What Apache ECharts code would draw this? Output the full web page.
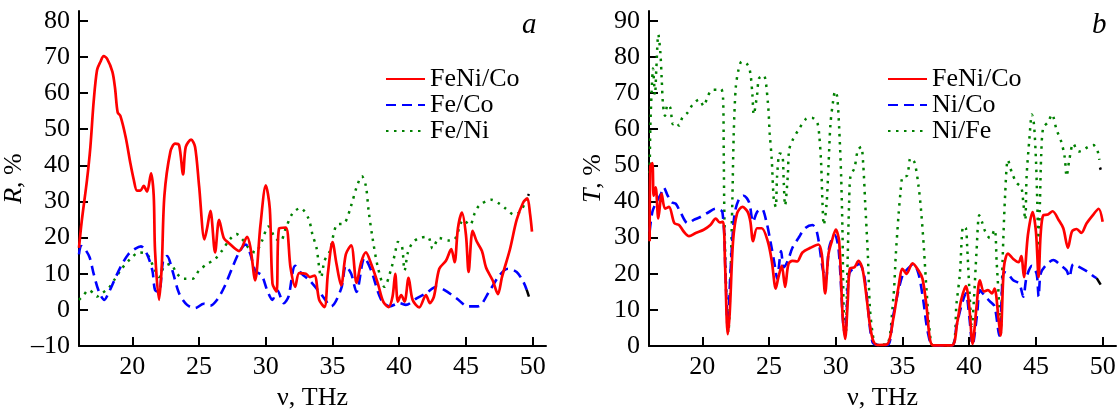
<!DOCTYPE html>
<html>
<head>
<meta charset="utf-8">
<script src="https://cdn.jsdelivr.net/npm/echarts@6/dist/echarts.min.js"></script>
<style>
  html, body { margin: 0; padding: 0; background: #fff; }
  #main { width: 1119px; height: 416px; }
</style>
</head>
<body>
<div id="main"></div>
<script>
// tick labels
var xTicks = [20, 25, 30, 35, 40, 45, 50];
var rTicks = [-10, 0, 10, 20, 30, 40, 50, 60, 70, 80];
var tTicks = [0, 10, 20, 30, 40, 50, 60, 70, 80, 90];

// panel a: reflection R, %  ([frequency THz, value])
var rFeNiCo = [[16.0,17.2],[16.2,24.4],[16.6,36],[16.85,45],[17.1,57.7],[17.35,66.3],[17.6,68.6],[17.85,70.2],[18.1,69.5],[18.5,65.9],[18.7,61.4],[18.9,54.6],[19.1,53.7],[19.5,47.8],[19.85,40.6],[20.1,36.1],[20.35,33],[20.6,33],[20.85,34.3],[21.1,32.7],[21.4,37.8],[21.6,31.6],[21.7,16.3],[22.0,2.8],[22.2,11.9],[22.4,31.6],[22.85,43.8],[23.2,46],[23.5,45.6],[23.8,37.5],[24.0,45.1],[24.4,47.1],[24.7,45.1],[25.0,34.3],[25.4,19.5],[25.6,22.6],[25.85,27.4],[26.2,15.9],[26.5,24.9],[26.85,19.9],[27.2,18.6],[28.0,16.3],[28.6,20.2],[28.85,17.2],[29.2,8.2],[29.6,23.5],[30.0,34.5],[30.3,28],[30.5,7.3],[30.8,5.1],[31.0,22.6],[31.5,22.8],[31.85,11.8],[32.2,6.4],[32.5,10.2],[33.0,10],[33.3,9.1],[33.65,9.5],[34.0,2.8],[34.4,0.8],[34.65,10],[35.0,18.8],[35.3,12.7],[35.65,6.8],[36.0,15.4],[36.4,17.9],[36.8,7.5],[37.15,13.2],[37.5,15.9],[37.9,12.7],[38.4,7.3],[38.8,2.3],[39.2,0.8],[39.5,3.7],[39.7,10],[39.9,2.3],[40.15,4.1],[40.4,2.3],[40.7,8.9],[41.0,2.8],[41.5,0.7],[42.0,4.1],[42.3,1.9],[42.6,3.7],[43.0,11.4],[43.5,13.6],[43.9,16.8],[44.15,13.2],[44.4,22.6],[44.7,26.9],[45.0,20.8],[45.2,10.5],[45.5,21.9],[45.8,19],[46.2,16.3],[46.5,11.8],[47.0,8.2],[47.4,4.4],[47.7,9.1],[48.3,16.8],[48.8,24.9],[49.3,29.8],[49.6,30.9],[49.8,26.7],[49.95,21.7]];
var rFeCo = [[16.0,15.4],[16.15,17.7],[16.45,16.8],[16.8,14.5],[17.1,10],[17.5,5],[17.9,2.8],[18.2,4.6],[18.6,7.8],[19.1,11.8],[19.7,15.4],[20.2,16.9],[20.65,17.6],[21.1,15.4],[21.5,10.9],[21.7,5.5],[22.0,5],[22.3,13.6],[22.6,14.9],[23.0,10.9],[23.5,4.6],[24.1,1.4],[24.7,0.5],[25.35,1.7],[25.85,1.2],[26.35,2.8],[26.9,6.4],[27.5,11.8],[28.05,16.3],[28.5,18.1],[28.85,15.4],[29.2,10.9],[29.7,9.5],[30.1,5.5],[30.5,2.8],[30.85,5.5],[31.35,1.9],[31.7,3.7],[32.2,12.2],[32.7,10],[33.3,8.1],[34.2,4.1],[34.9,1],[35.65,5.9],[36.0,12.2],[36.4,10],[36.8,5],[37.4,14.5],[37.9,10.9],[38.65,2.8],[39.3,1],[40.0,1.9],[40.5,1.4],[41.3,3.2],[42.0,4.6],[42.8,6.4],[43.4,5.5],[44.3,3.2],[45.15,1],[45.9,1],[46.8,5.5],[47.5,9.5],[48.15,11.4],[48.8,10.5],[49.3,7.8],[49.55,5.6]];
var rFeNi = [[16.0,2.8],[16.35,4.1],[16.7,5.5],[17.1,4.6],[17.35,3.7],[17.7,4.6],[18.2,5.9],[18.7,8.6],[19.2,11.4],[19.85,14.1],[20.5,15.9],[21.1,15.4],[21.6,11.8],[22.0,9.1],[22.35,11.8],[22.85,12.7],[23.35,10],[23.85,8.6],[24.5,8.6],[25.0,10.9],[25.6,12.7],[26.2,14.1],[26.7,16.3],[27.3,19.5],[27.8,21],[28.25,19.5],[28.7,17.2],[29.2,15.9],[29.7,19],[30.2,23.1],[30.7,19.9],[31.1,19],[31.5,22.6],[32.0,26.7],[32.6,28.2],[33.2,25.3],[33.5,20.8],[33.8,17.2],[34.15,9.1],[34.4,13.6],[34.8,16.3],[35.3,23.5],[35.9,24],[36.4,28.9],[36.8,33.9],[37.2,37],[37.5,34.3],[37.7,27.6],[38.0,19.9],[38.4,11.8],[38.9,6.4],[39.4,11.4],[39.7,15.9],[39.9,18.8],[40.2,17.7],[40.4,10.9],[40.65,15.9],[41.0,18.6],[41.5,19.9],[42.15,20.2],[42.5,17],[43.0,19.9],[43.65,19.2],[44.15,19.5],[44.8,24.9],[45.3,23.5],[45.65,26.7],[46.0,28.9],[46.9,30.5],[47.5,29.4],[48.0,28],[48.6,26.4],[49.1,27.3],[49.5,30.3],[49.65,31.5]];
var rTailCo = [[49.55,5.6],[49.72,3.7]];
var rTailNi = [[49.66,31.6],[49.72,32.1]];

// panel b: transmission T, %
var tFeNiCo = [[16.05,29],[16.1,49.7],[16.25,50.6],[16.35,41.6],[16.5,43.9],[16.7,35.3],[16.95,42.1],[17.2,38],[17.5,38.5],[17.9,34],[18.25,33.5],[18.6,31.7],[19.0,30.4],[19.5,31.3],[20.1,32.2],[20.6,33.5],[21.0,35.3],[21.3,34.2],[21.55,34.4],[21.7,22.7],[21.9,3.3],[22.05,9.2],[22.3,29],[22.6,36.7],[23.0,38.5],[23.4,37.1],[23.6,34.4],[23.8,29],[24.1,32.6],[24.45,32.6],[24.9,29],[25.2,23.6],[25.5,15.9],[25.7,19.1],[25.95,22.2],[26.2,16.4],[26.45,22.7],[26.75,23.6],[27.1,23.4],[27.5,25.9],[28.1,27.2],[28.7,28.1],[28.95,25.4],[29.2,14.6],[29.45,25.4],[29.7,29],[30.0,32.2],[30.25,29],[30.5,9.2],[30.7,2],[30.9,12.8],[31.05,21.4],[31.4,21.8],[31.7,23.6],[32.0,21.4],[32.3,13.7],[32.55,6],[32.8,1.5],[33.1,0.3],[33.85,0.5],[34.3,7.4],[34.7,16.4],[35.0,21.4],[35.3,20],[35.75,22.9],[36.2,20.9],[36.5,18.6],[36.8,11],[37.05,2],[37.3,0.2],[38.7,0.2],[39.1,6.5],[39.4,12.8],[39.75,16.6],[40.0,11],[40.25,0.6],[40.55,11],[40.8,18.2],[41.1,15.1],[41.4,15.5],[41.7,14.6],[41.9,15.9],[42.2,7.4],[42.35,2.9],[42.6,21.8],[42.9,25.6],[43.3,24.1],[43.7,23.2],[43.9,24.9],[44.1,19.1],[44.4,30.8],[44.75,37.1],[45.0,31.7],[45.2,19.1],[45.35,30.8],[45.55,36.2],[45.9,36.4],[46.25,37.3],[46.7,34.9],[47.05,32.6],[47.4,27.2],[47.7,31.7],[48.05,32.4],[48.4,31.3],[48.8,34],[49.3,36.4],[49.7,38],[50.0,34.4]];
var tNiCo = [[16.05,31.7],[16.25,37.1],[16.55,39.8],[16.9,42.1],[17.1,43.9],[17.4,41.6],[17.7,39.8],[18.0,39.4],[18.4,36.7],[18.9,34],[19.35,34.9],[19.9,35.8],[20.5,37.1],[21.0,38],[21.5,37.1],[21.75,18.2],[21.9,4.7],[22.1,20],[22.4,36.2],[22.75,40.7],[23.1,41.6],[23.5,39.8],[23.8,34.4],[24.1,37.1],[24.45,38],[24.8,34.4],[25.1,29],[25.45,21.8],[25.6,18.6],[25.9,26.3],[26.1,21.8],[26.4,23.6],[26.75,27.2],[27.2,29.9],[27.7,32.6],[28.25,33.5],[28.6,31.3],[29.0,21.8],[29.25,18.2],[29.5,27.2],[29.9,30.8],[30.2,27.2],[30.55,6.5],[30.7,2.9],[31.0,20],[31.4,21.8],[31.75,22.7],[32.1,20],[32.4,11],[32.75,1.1],[33.25,0.3],[33.9,0.3],[34.3,8.3],[34.7,15.5],[35.05,20],[35.4,21.4],[35.8,22.7],[36.2,20],[36.55,12.8],[36.9,3.8],[37.3,0.2],[38.7,0.2],[39.05,5.6],[39.4,11],[39.75,14.6],[40.0,8.3],[40.25,0.4],[40.6,9.2],[40.8,15.5],[41.2,13.7],[41.55,12.4],[41.9,11],[42.25,2.9],[42.6,20.5],[42.9,20],[43.3,18.2],[43.75,17.3],[44.05,13.7],[44.3,19.1],[44.7,22.2],[45.05,20],[45.2,13.7],[45.35,20],[45.7,22.2],[46.3,23.8],[46.9,22.2],[47.3,20.9],[47.5,19.1],[47.8,22.7],[48.3,21.8],[48.9,20.5],[49.4,19.1],[49.55,18.8]];
var tNiFe = [[16.05,47.9],[16.1,60.5],[16.2,70.5],[16.3,76.8],[16.45,69.5],[16.55,76.8],[16.7,86.2],[16.85,81.3],[16.95,74.1],[17.05,66.8],[17.2,63.7],[17.4,66.8],[17.6,65.9],[17.8,61.4],[18.05,61.9],[18.25,61],[18.5,63.2],[18.9,64.6],[19.25,66.7],[19.75,68.2],[20.1,66.4],[20.4,69.1],[20.75,70.9],[21.1,70.9],[21.4,71.1],[21.55,68.6],[21.6,54.2],[21.65,36.2],[21.8,13.7],[21.95,3.8],[22.1,18.2],[22.25,40.7],[22.35,58.7],[22.5,71.4],[22.7,76.3],[22.95,78.7],[23.4,77.8],[23.6,75.4],[23.75,69.5],[23.85,64.1],[24.1,69.5],[24.25,74.1],[24.6,74.9],[24.9,67.8],[25.05,58.7],[25.2,51.5],[25.35,40.7],[25.5,38.5],[25.6,47],[25.8,53.3],[26.0,52.9],[26.1,45.2],[26.2,38.9],[26.4,47],[26.5,54.2],[26.75,56.9],[27.25,60.1],[27.75,62.8],[28.2,63.2],[28.6,61.9],[28.75,58.7],[28.9,50.6],[29.0,39.8],[29.1,33.5],[29.3,38.9],[29.45,49.7],[29.6,61.4],[29.8,67.8],[29.95,70.5],[30.1,69.1],[30.25,60.5],[30.4,47],[30.5,31.7],[30.6,9.2],[30.75,3.8],[30.85,18.2],[31.0,39.8],[31.1,47],[31.4,49.3],[31.65,54.2],[31.9,55.1],[32.05,50.6],[32.2,39.8],[32.4,25.4],[32.55,11],[32.75,3.8],[33.0,0.6],[33.8,0.4],[34.3,12.8],[34.5,25.4],[34.7,36.2],[34.85,42.5],[35.0,46.8],[35.35,47.2],[35.6,52],[35.9,50.8],[36.2,44.3],[36.4,37.1],[36.6,27.2],[36.8,15.5],[37.05,3.8],[37.3,0.2],[38.7,0.2],[39.05,11.9],[39.3,20],[39.55,33.1],[39.75,32.6],[39.85,27.2],[40.0,16.4],[40.2,5.6],[40.35,12.8],[40.55,26.3],[40.75,36.2],[40.95,34.4],[41.2,31.7],[41.55,29.9],[41.9,32.2],[42.05,23.6],[42.25,11],[42.35,2.9],[42.5,23.6],[42.7,42.5],[42.9,51.5],[43.2,47.9],[43.55,45.2],[43.9,43.9],[44.05,39.8],[44.2,34.9],[44.3,47],[44.5,56.9],[44.7,64.1],[44.85,61.4],[45.0,51.5],[45.1,39.8],[45.2,26.3],[45.3,39.8],[45.4,53.3],[45.55,60.5],[45.9,61.9],[46.2,64.1],[46.55,59.8],[46.9,56.5],[47.15,52.4],[47.3,47],[47.5,51.5],[47.8,56],[48.2,53.8],[48.55,54.2],[48.9,55.1],[49.3,55.6],[49.6,54.2],[49.75,51.5]];
var tTailCo = [[49.55,18.8],[49.85,17.0]];
var tTailFe = [[49.8,49.4],[49.86,48.8]];

var FONT = '"Liberation Serif", "Times New Roman", serif';
var RED = '#ff0000', BLUE = '#0000ff', GREEN = '#008000';

function xAxisOf(gi) {
  return {
    type: 'value', gridIndex: gi, min: 16, max: 51,
    name: 'ν, THz', nameLocation: 'middle', nameGap: 37,
    nameTextStyle: { fontFamily: FONT, fontSize: 26, color: '#000' },
    axisLine: { onZero: false, lineStyle: { color: '#000', width: 2 } },
    axisTick: { inside: true, length: 9, customValues: xTicks, lineStyle: { color: '#000', width: 2 } },
    axisLabel: { customValues: xTicks, margin: 8, fontFamily: FONT, fontSize: 26, color: '#000' },
    splitLine: { show: false }
  };
}
function yAxisOf(gi, min, max, ticks, letter) {
  return {
    type: 'value', gridIndex: gi, min: min, max: max,
    name: '{i|' + letter + '}, %', nameLocation: 'middle', nameGap: 43,
    nameTextStyle: { fontFamily: FONT, fontSize: 26, color: '#000',
      rich: { i: { fontFamily: FONT, fontSize: 26, fontStyle: 'italic', color: '#000' } } },
    axisLine: { lineStyle: { color: '#000', width: 2 } },
    axisTick: { inside: true, length: 9, customValues: ticks, lineStyle: { color: '#000', width: 2 } },
    axisLabel: { customValues: ticks, margin: 9, fontFamily: FONT, fontSize: 26, color: '#000',
      formatter: function (v) { return v < 0 ? '\u2013' + Math.abs(v) : String(v); } },
    splitLine: { show: false }
  };
}
function lineOf(name, data, gi, color, dash, width) {
  return {
    type: 'line', name: name, data: data, xAxisIndex: gi, yAxisIndex: gi,
    symbol: 'none', smooth: 0.3, animation: false,
    lineStyle: { color: color, width: width, type: dash },
    itemStyle: { color: color }
  };
}
function legendOf(left, names) {
  return {
    orient: 'vertical', left: left, top: 66, padding: 0, itemGap: 0,
    itemWidth: 39, itemHeight: 14, data: names,
    itemStyle: { opacity: 0 },
    textStyle: { fontFamily: FONT, fontSize: 26, color: '#000', lineHeight: 24 }
  };
}

var myChart = echarts.init(document.getElementById('main'));
myChart.setOption({
  backgroundColor: '#fff',
  animation: false,
  grid: [
    { left: 79, top: 11, width: 467, bottom: 62 },
    { left: 649, top: 11, width: 467, bottom: 62 }
  ],
  xAxis: [xAxisOf(0), xAxisOf(1)],
  yAxis: [yAxisOf(0, -10, 82.7, rTicks, 'R'), yAxisOf(1, 0, 92.7, tTicks, 'T')],
  legend: [
    legendOf(385, ['FeNi/Co', 'Fe/Co', 'Fe/Ni']),
    legendOf(887, ['FeNi/Co ', 'Ni/Co', 'Ni/Fe'])
  ],
  graphic: [
    { type: 'text', left: 522, top: 11, style: { text: 'a', font: 'italic 29px "Liberation Serif"', fill: '#000' } },
    { type: 'text', left: 1092, top: 11, style: { text: 'b', font: 'italic 29px "Liberation Serif"', fill: '#000' } }
  ],
  series: [
    lineOf('Fe/Ni', rFeNi, 0, GREEN, [2.5, 5.5], 2.5),
    lineOf('Fe/Co', rFeCo, 0, BLUE, [10, 6], 2.6),
    lineOf('FeNi/Co', rFeNiCo, 0, RED, 'solid', 2.7),
    lineOf('', rTailCo, 0, '#000', 'solid', 2.5),
    lineOf('', rTailNi, 0, '#000', 'solid', 2.5),
    lineOf('Ni/Fe', tNiFe, 1, GREEN, [2.5, 5.5], 2.5),
    lineOf('Ni/Co', tNiCo, 1, BLUE, [10, 6], 2.6),
    lineOf('FeNi/Co ', tFeNiCo, 1, RED, 'solid', 2.7),
    lineOf('', tTailCo, 1, '#000', 'solid', 2.5),
    lineOf('', tTailFe, 1, '#000', 'solid', 2.5)
  ]
});
window.onresize = function () {
  myChart.resize();
};
</script>
</body>
</html>
